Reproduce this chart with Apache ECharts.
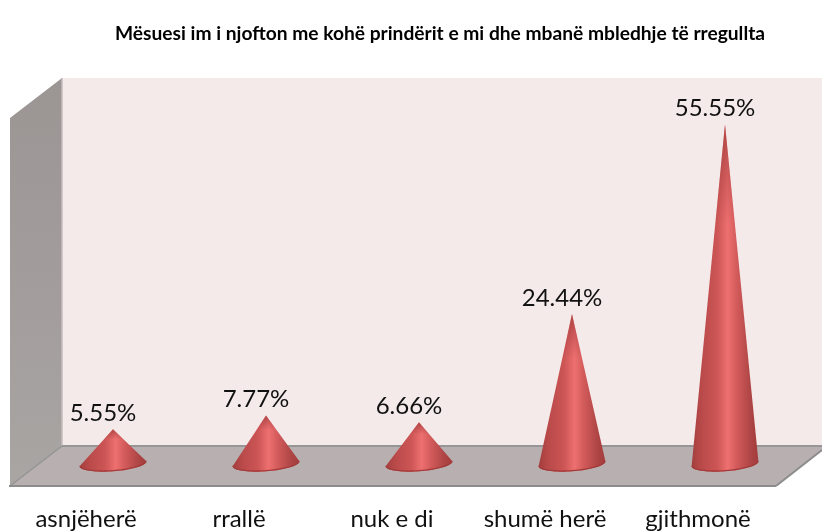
<!DOCTYPE html>
<html><head><meta charset="utf-8">
<style>html,body{margin:0;padding:0;background:#fff}#c{width:822px;height:531px}</style>
<script src="https://cdn.jsdelivr.net/npm/echarts@6/dist/echarts.min.js"></script>
</head><body><div id="c"></div>
<script>
const titleText = 'Mësuesi im i njofton me kohë prindërit e mi dhe mbanë mbledhje të rregullta';
const categories = ['asnjëherë', 'rrallë', 'nuk e di', 'shumë herë', 'gjithmonë'];
const values = [5.55, 7.77, 6.66, 24.44, 55.55];
const FONT = 'Lato, "Open Sans", sans-serif';

const chart = echarts.init(document.getElementById('c'), null, {renderer: 'canvas'});

function renderWalls(params, api) {
  const bx = 62, by = 446, top = 78;
  const fl = 10, fb = 486;
  const poly = (pts, fill) => ({type: 'polygon', shape: {points: pts}, style: {fill}});
  const line = (a, b, stroke, w) => ({type: 'line', shape: {x1: a[0], y1: a[1], x2: b[0], y2: b[1]},
    style: {stroke, lineWidth: w}});
  return {type: 'group', children: [
    poly([[bx, top], [822, top], [822, by], [bx, by]], '#f5eaea'),
    poly([[fl, 118], [bx, top], [bx, by], [fl, fb]], {type: 'linear', x: 0, y: 0, x2: 0, y2: 1,
      colorStops: [{offset: 0, color: '#9b9594'}, {offset: 1, color: '#a9a5a3'}]}),
    poly([[fl, fb], [bx, by], [822, by], [822, 450], [776, fb]], '#b8b0b0'),
    line([bx, top], [bx, by], '#c4bcbc', 1.5),
    line([fl, fb], [bx, by], '#949494', 1.5),
    line([bx, by], [822, by], '#969696', 2),
    line([fl - 1, fb], [776, fb], '#8c8c8c', 2),
    line([776, fb], [822, 450], '#8c8c8c', 2)
  ]};
}

function renderCone(params, api) {
  const base = api.coord([api.value(0), 0]);
  const apex = api.coord([api.value(0), api.value(1)]);
  const a = 33.5, b = 7.5, tilt = -4.3 * Math.PI / 180;
  const cx = base[0], cy = base[1] + 0.8;
  const pt = t => {
    const x = a * Math.cos(t), y = b * Math.sin(t);
    return [cx + x * Math.cos(tilt) - y * Math.sin(tilt), cy + x * Math.sin(tilt) + y * Math.cos(tilt)];
  };
  const arc = [];
  for (let i = 0; i <= 40; i++) arc.push(pt(i / 40 * Math.PI));
  const rim = arc.slice();
  for (let i = 40; i >= 0; i--) { const p = pt(i / 40 * Math.PI); rim.push([p[0], p[1] - 1.3]); }
  const left = cx - a, width = 2 * a;
  const grad = {type: 'linear', x: left, y: 0, x2: left + width, y2: 0, global: true, colorStops: [
    {offset: 0, color: '#a33e3e'}, {offset: 0.15, color: '#ba4a4a'}, {offset: 0.38, color: '#cc5555'},
    {offset: 0.54, color: '#ee7070'}, {offset: 0.68, color: '#d25a5a'}, {offset: 0.87, color: '#b04646'},
    {offset: 1, color: '#a23c3c'}]};
  const h = base[1] - apex[1];
  const shade = {type: 'linear', x: 0, y: apex[1], x2: 0, y2: apex[1] + h * 0.3, global: true, colorStops: [
    {offset: 0, color: 'rgba(140,45,45,0.6)'}, {offset: 1, color: 'rgba(140,45,45,0)'}]};
  return {type: 'group', children: [
    {type: 'polygon', shape: {points: [apex].concat(arc)}, style: {fill: grad}},
    {type: 'polygon', shape: {points: [apex].concat(arc)}, style: {fill: shade}},
    {type: 'polygon', shape: {points: rim}, style: {fill: '#a33a3a'}},
    {type: 'text', style: {text: api.value(1) + '%', x: apex[0] - 10, y: apex[1] - 16,
      align: 'center', verticalAlign: 'middle', font: '24px ' + FONT, fill: '#111'}}
  ]};
}

chart.setOption({
  animation: false,
  title: {text: titleText, left: 110, top: 19,
    textStyle: {fontFamily: FONT, fontSize: 19.2, fontWeight: 'bold', color: '#000'}},
  grid: {left: 36.5, width: 765, top: 97, height: 368},
  xAxis: {type: 'category', data: categories, axisLine: {show: false}, axisTick: {show: false},
    axisLabel: {margin: 44, fontFamily: FONT, fontSize: 24, color: '#111', padding: [0, 54, 0, 0], interval: 0}},
  yAxis: {type: 'value', min: 0, max: 60, interval: 10, show: false},
  series: [
    {type: 'custom', renderItem: renderWalls, data: [[0, 0]], clip: false, silent: true, z: 1},
    {type: 'custom', renderItem: renderCone, encode: {x: 0, y: 1},
      data: values.map((v, i) => [i, v]), clip: false, z: 2}
  ]
});
</script></body></html>
